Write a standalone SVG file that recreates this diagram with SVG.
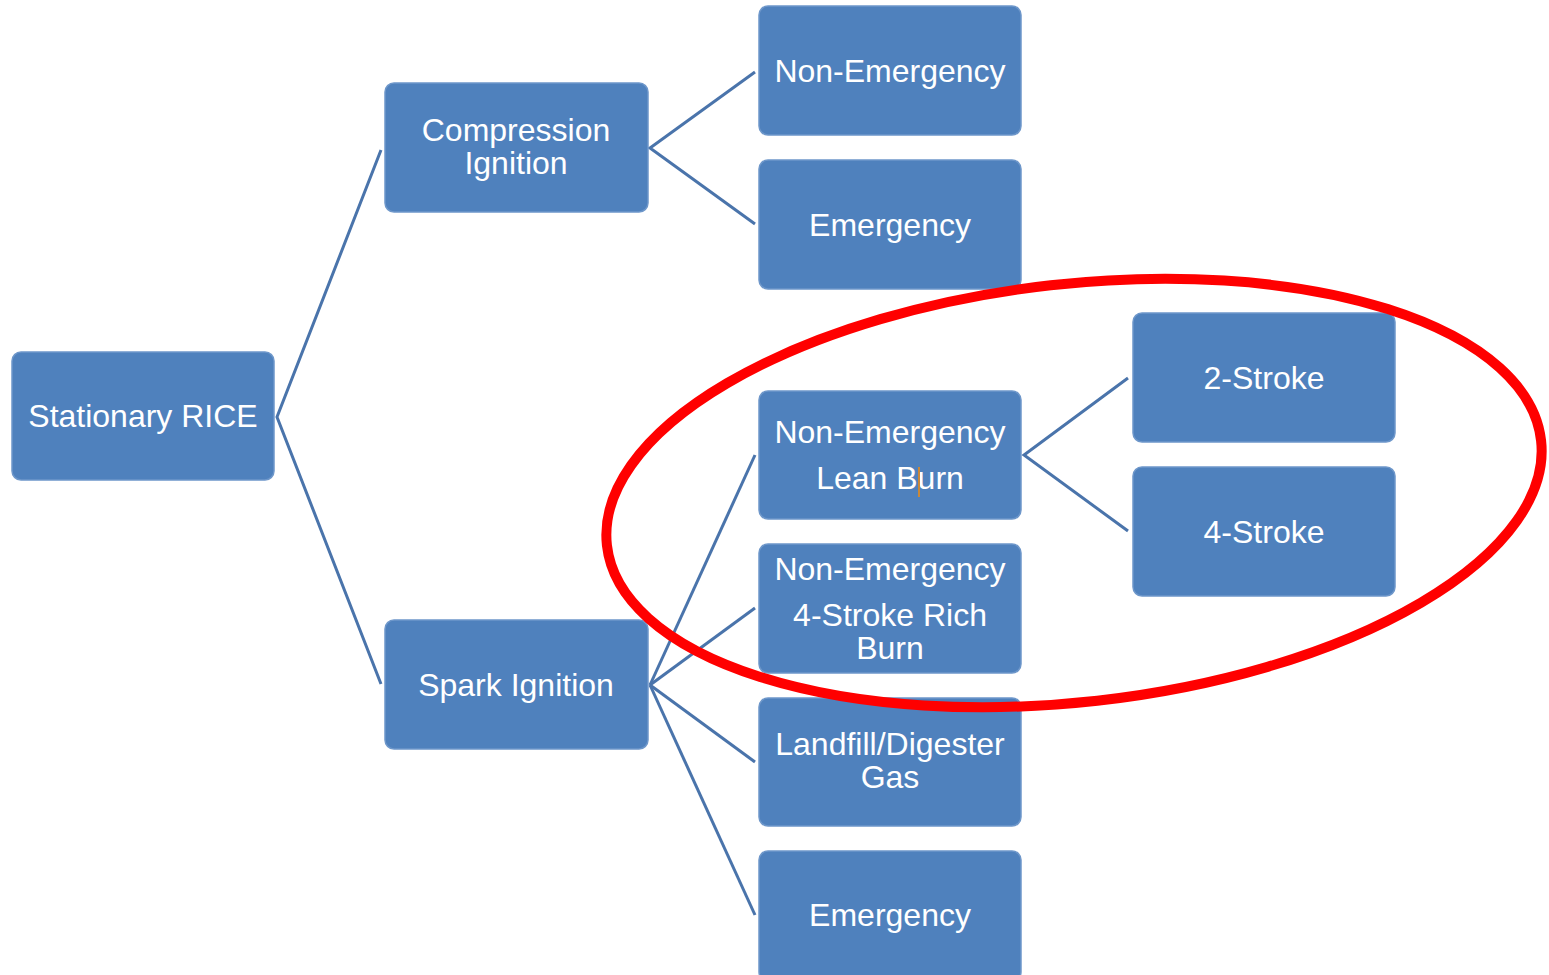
<svg xmlns="http://www.w3.org/2000/svg" width="1549" height="975" viewBox="0 0 1549 975">
<style>
.box{fill:#4F81BD;stroke:#6E97CA;stroke-width:1.5}
.lbl{font-family:"Liberation Sans",Arial,sans-serif;font-size:32px;fill:#FFFFFF;text-anchor:middle}
.con{stroke:#4A74AB;stroke-width:3;fill:none}
</style>
<rect width="1549" height="975" fill="#FFFFFF"/>
<g id="connectors">
<polyline class="con" points="381,150 277,417 381,684"/>
<polyline class="con" points="755,72 650,148 755,224"/>
<line class="con" x1="650" y1="685" x2="755" y2="455"/>
<line class="con" x1="650" y1="685" x2="755" y2="608"/>
<line class="con" x1="650" y1="685" x2="755" y2="762"/>
<line class="con" x1="650" y1="685" x2="755" y2="915"/>
<polyline class="con" points="1128,378 1024,455 1128,531"/>
</g>
<g id="stationary-rice"><rect class="box" x="12" y="352" width="262" height="128" rx="9"/><text class="lbl" x="143" y="427">Stationary RICE</text></g>
<g id="compression-ignition"><rect class="box" x="385" y="83" width="263" height="129" rx="9"/><text class="lbl" x="516" y="141">Compression</text><text class="lbl" x="516" y="174">Ignition</text></g>
<g id="spark-ignition"><rect class="box" x="385" y="620" width="263" height="129" rx="9"/><text class="lbl" x="516" y="696">Spark Ignition</text></g>
<g id="ci-non-emergency"><rect class="box" x="759" y="6" width="262" height="129" rx="9"/><text class="lbl" x="890" y="82">Non-Emergency</text></g>
<g id="ci-emergency"><rect class="box" x="759" y="160" width="262" height="129" rx="9"/><text class="lbl" x="890" y="236">Emergency</text></g>
<g id="si-lean-burn"><rect class="box" x="759" y="391" width="262" height="128" rx="9"/><text class="lbl" x="890" y="443">Non-Emergency</text><text class="lbl" x="890" y="489">Lean Burn</text></g>
<g id="si-rich-burn"><rect class="box" x="759" y="544" width="262" height="129" rx="9"/><text class="lbl" x="890" y="580">Non-Emergency</text><text class="lbl" x="890" y="626">4-Stroke Rich</text><text class="lbl" x="890" y="659">Burn</text></g>
<g id="si-landfill"><rect class="box" x="759" y="698" width="262" height="128" rx="9"/><text class="lbl" x="890" y="755">Landfill/Digester</text><text class="lbl" x="890" y="788">Gas</text></g>
<g id="si-emergency"><rect class="box" x="759" y="851" width="262" height="130" rx="9"/><text class="lbl" x="890" y="926">Emergency</text></g>
<g id="two-stroke"><rect class="box" x="1133" y="313" width="262" height="129" rx="9"/><text class="lbl" x="1264" y="389">2-Stroke</text></g>
<g id="four-stroke"><rect class="box" x="1133" y="467" width="262" height="129" rx="9"/><text class="lbl" x="1264" y="543">4-Stroke</text></g>
<line x1="919" y1="467" x2="919" y2="497" stroke="#C8883A" stroke-width="2"/>
<ellipse cx="1074" cy="493" rx="470" ry="209" transform="rotate(-6.4 1074 493)" fill="none" stroke="#FF0000" stroke-width="10"/>
</svg>
